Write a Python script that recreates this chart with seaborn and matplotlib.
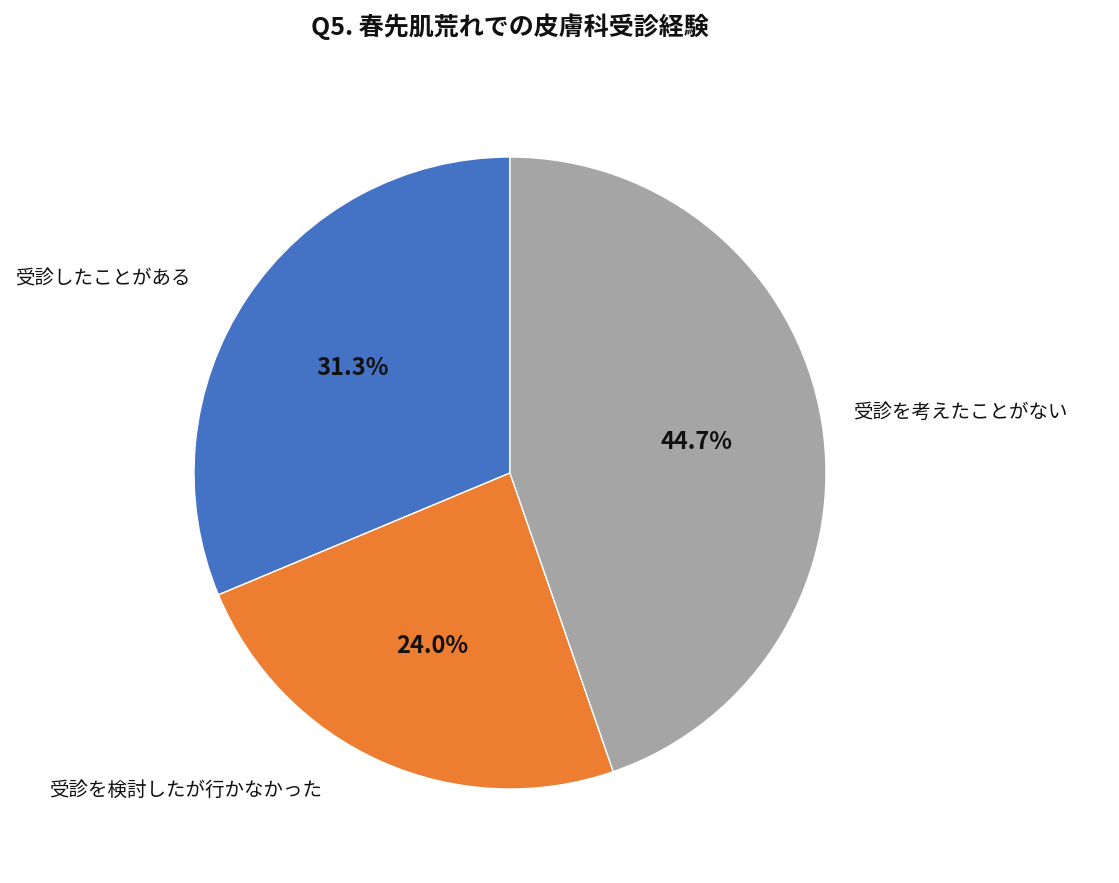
import matplotlib
matplotlib.use("Agg")
import matplotlib.pyplot as plt
import seaborn as sns

sns.set_theme(style="white")
plt.rcParams['font.family'] = ['Noto Sans CJK JP', 'DejaVu Sans']

categories = ["受診したことがある", "受診を検討したが行かなかった", "受診を考えたことがない"]
values = [31.3, 24.0, 44.7]
colors = ["#4472C4", "#ED7D31", "#A5A5A5"]

fig = plt.figure(figsize=(11.19, 8.83), dpi=100)
W, H = 1119, 883
cx, cy, r = 510, 473, 316
ax = fig.add_axes([(cx - r) / W, (H - cy - r) / H, 2 * r / W, 2 * r / H])
wedges, texts, autotexts = ax.pie(values, colors=colors, startangle=90, counterclock=True,
                                  autopct="%.1f%%", pctdistance=0.6, radius=1,
                                  wedgeprops=dict(linewidth=1, edgecolor="white"),
                                  textprops=dict(fontsize=17, fontweight="bold", color="#111111"))
ax.set_xlim(-1, 1); ax.set_ylim(-1, 1)
ax.set_aspect("equal")
lab_pos = [(-1.566, 0.614, "left"), (-1.46, -1.003, "left"), (1.085, 0.19, "left")]
for (x, y, ha), c in zip(lab_pos, categories):
    ax.text(x, y, c, ha=ha, va="center", fontsize=14, color="#111111", clip_on=False)
fig.text(0.456, 1 - 27 / H, "Q5. 春先肌荒れでの皮膚科受診経験", ha="center", va="center",
         fontsize=18, fontweight="bold", color="#111111")
fig.savefig("out.png", dpi=100, facecolor="white")
